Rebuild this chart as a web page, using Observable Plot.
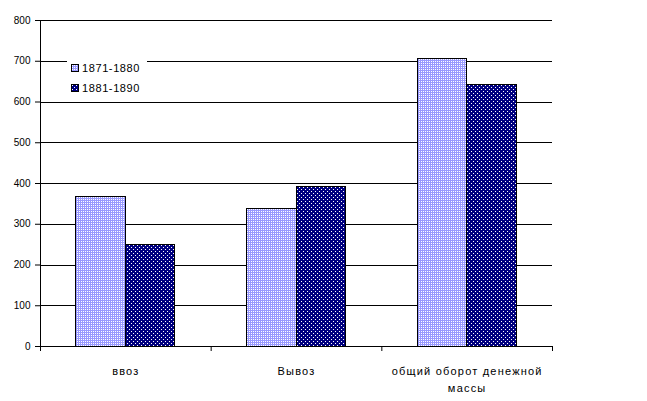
<!DOCTYPE html>
<html><head><meta charset="utf-8">
<script src="https://cdn.jsdelivr.net/npm/d3@7"></script>
<script src="https://cdn.jsdelivr.net/npm/@observablehq/plot@0.6"></script>
<style>
body{margin:0;background:#fff;font-family:"Liberation Sans",Arial,sans-serif}
#wrap{position:relative;width:647px;height:401px}
#legend{position:absolute;left:67px;top:54px;width:80px;height:44px;background:#fff;font-size:11px;color:#000;letter-spacing:0.6px}
.row{position:absolute;left:0;height:14px;display:flex;align-items:center}
.cat text{letter-spacing:1.2px}
</style></head><body><div id="wrap"><div id="legend"></div></div>
<script>
const categories = ["ввоз", "Вывоз", "общий оборот денежной массы"];
const tickLabels = ["ввоз", "Вывоз", "общий оборот денежной\nмассы"];
const seriesNames = ["1871-1880", "1881-1890"];
const values1871 = [368, 338, 706];
const values1881 = [250, 392, 642];
const yTicks = [0, 100, 200, 300, 400, 500, 600, 700, 800];

const barStart = 0.21, barWidth = 0.29;
const rows1 = categories.map((c, i) => ({cat: c, i, value: values1871[i]}));
const rows2 = categories.map((c, i) => ({cat: c, i, value: values1881[i]}));

const chart = Plot.plot({
  width: 647, height: 401,
  marginTop: 20, marginBottom: 55, marginLeft: 40, marginRight: 95,
  style: {fontFamily: "Liberation Sans, Arial, sans-serif", fontSize: "10px", color: "#000", background: "#fff"},
  x: {domain: [0, 3], axis: null},
  y: {domain: [0, 800], axis: null},
  marks: [
    Plot.ruleY(yTicks.filter(d => d > 0), {stroke: "#000", strokeWidth: 1, shapeRendering: "crispEdges"}),
    Plot.rectY(rows1, {x1: d => d.i + barStart, x2: d => d.i + barStart + barWidth, y1: 0, y2: "value",
      fill: "url(#pLight)", stroke: "#000", strokeWidth: 1, shapeRendering: "crispEdges"}),
    Plot.rectY(rows2, {x1: d => d.i + barStart + barWidth, x2: d => d.i + barStart + 2 * barWidth, y1: 0, y2: "value",
      fill: "url(#pDark)", stroke: "#000", strokeWidth: 1, shapeRendering: "crispEdges"}),
    Plot.ruleX([0], {y1: 0, y2: 800, stroke: "#000", shapeRendering: "crispEdges"}),
    Plot.ruleY([0], {stroke: "#000", shapeRendering: "crispEdges"}),
    Plot.axisY({ticks: yTicks, tickSize: 5, tickPadding: 5, tickFormat: d => String(d), label: null, fontSize: 10}),
    Plot.axisX({ticks: [0, 1, 2, 3], tickSize: 5, tickFormat: () => "", label: null}),
    Plot.text(tickLabels, {x: (d, i) => i + 0.5, y: 0, dy: 16, lineAnchor: "top", fontSize: 11, lineHeight: 1.55, fill: "#000", className: "cat"})
  ]
});

const ns = "http://www.w3.org/2000/svg";
const defs = document.createElementNS(ns, "defs");
defs.innerHTML = `
<pattern id="pLight" width="2" height="2" patternUnits="userSpaceOnUse">
  <rect width="2" height="2" fill="#9999FF"/><rect x="1" y="1" width="1" height="1" fill="#ffffff"/>
</pattern>
<pattern id="pDark" width="4" height="4" patternUnits="userSpaceOnUse">
  <rect width="4" height="4" fill="#000080"/><rect x="1" y="1" width="1" height="1" fill="#ffffff"/><rect x="3" y="3" width="1" height="1" fill="#ffffff"/>
</pattern>`;
chart.insertBefore(defs, chart.firstChild);
document.getElementById("wrap").insertBefore(chart, document.getElementById("legend"));

const legend = document.getElementById("legend");
seriesNames.forEach((s, k) => {
  const row = document.createElement("div");
  row.className = "row";
  row.style.top = (7 + k * 20) + "px";
  const sw = document.createElementNS(ns, "svg");
  sw.setAttribute("width", 8); sw.setAttribute("height", 8);
  sw.style.marginLeft = "4px"; sw.style.marginRight = "3px";
  sw.innerHTML = `<rect x="0.5" y="0.5" width="7" height="7" fill="${k ? "url(#pDark)" : "url(#pLight)"}" stroke="#000"/>`;
  row.appendChild(sw);
  const t = document.createElement("span");
  t.textContent = s;
  row.appendChild(t);
  legend.appendChild(row);
});
</script>
</body></html>
